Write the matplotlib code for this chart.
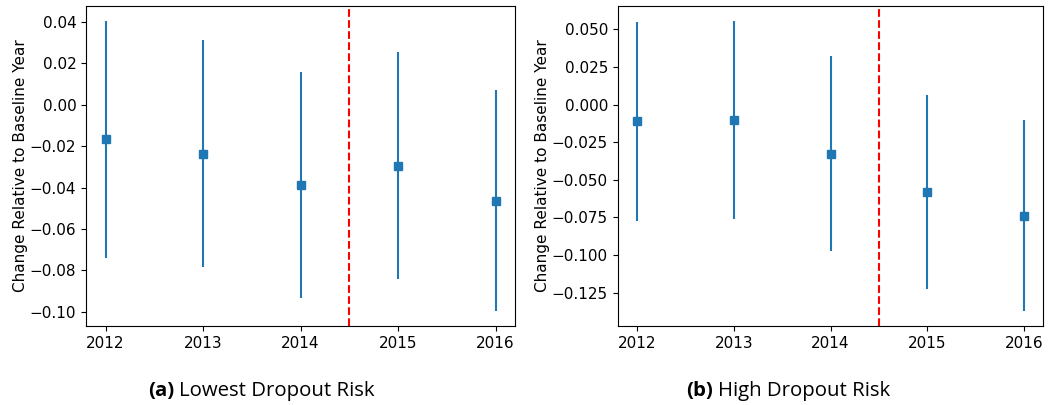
import matplotlib
matplotlib.use("Agg")
import numpy as np
import matplotlib.pyplot as plt

years = [2012, 2013, 2014, 2015, 2016]

# point estimates and half-widths of the 95% intervals
low_est = [-0.0168, -0.0237, -0.0387, -0.0294, -0.0463]
low_err = [0.0574, 0.0548, 0.0547, 0.0546, 0.0535]
high_est = [-0.0112, -0.0100, -0.0326, -0.0581, -0.0739]
high_err = [0.0662, 0.0659, 0.0648, 0.0645, 0.0636]

policy_year = 2014.5
low_ticks = [0.04, 0.02, 0.0, -0.02, -0.04, -0.06, -0.08, -0.10]
high_ticks = [0.05, 0.025, 0.0, -0.025, -0.05, -0.075, -0.1, -0.125]
captions = [("(a)", "Lowest Dropout Risk"), ("(b)", "High Dropout Risk")]

fig = plt.figure(figsize=(10.51, 4.05), dpi=100)
ax1 = fig.add_axes([86 / 1051, 79 / 405, 429 / 1051, 320 / 405])
ax2 = fig.add_axes([617.7 / 1051, 79 / 405, 425.6 / 1051, 320 / 405])

for ax, est, err, ticks, fmt in [(ax1, low_est, low_err, low_ticks, '{:.2f}'),
                                 (ax2, high_est, high_err, high_ticks, '{:.3f}')]:
    ax.errorbar(years, est, yerr=err, fmt='s', color='#1f77b4',
                markersize=6, elinewidth=1.5)
    ax.axvline(policy_year, color='r', linestyle='--', linewidth=1.5)
    ax.set_xticks(years)
    ax.set_yticks(ticks)
    ax.set_yticklabels([fmt.format(t).replace('-', '\u2212') for t in ticks])
    ax.set_ylabel('Change Relative to Baseline Year', fontsize=11, labelpad=1.5)
    ax.tick_params(labelsize=11)

cap_font = ['Open Sans', 'DejaVu Sans']
renderer = fig.canvas.get_renderer()
for (tag, name), x0 in zip(captions, [148 / 1051, 686 / 1051]):
    t = fig.text(x0, 9 / 405, tag, fontsize=14.7, fontweight='bold',
                 family=cap_font, ha='left', va='baseline')
    bb = t.get_window_extent(renderer)
    fig.text((bb.x1 + 5) / 1051, 9 / 405, name, fontsize=14.7,
             family=cap_font, ha='left', va='baseline')

fig.savefig('out.png', dpi=100)
